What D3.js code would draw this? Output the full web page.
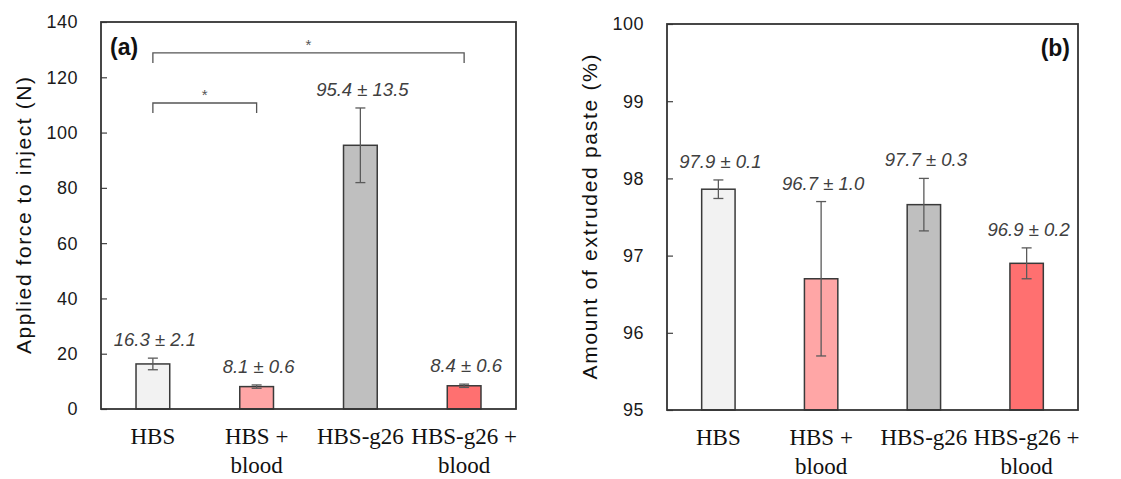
<!DOCTYPE html>
<html>
<head>
<meta charset="utf-8">
<script src="https://cdn.jsdelivr.net/npm/d3@7"></script>
<style>
  html, body { margin: 0; padding: 0; background: #fff; }
  svg { display: block; }
</style>
</head>
<body>
<svg id="chart" width="1121" height="479"></svg>
<script>
// ---------------- data ----------------
const categories = ["HBS", "HBS +\nblood", "HBS-g26", "HBS-g26 +\nblood"];
const barColors = ["#F2F2F2", "#FFA6A6", "#BFBFBF", "#FF7070"];

// (a) Applied force to inject (N)
const forceMeans  = [16.3, 8.1, 95.4, 8.4];
const forceErrors = [2.1, 0.6, 13.5, 0.6];
const forceTicks  = [0, 20, 40, 60, 80, 100, 120, 140];
const forceDomain = [0, 140];
// significance brackets: [from index, to index, bracket level value, leg end value]
const forceSigFrom   = [0, 0];
const forceSigTo     = [1, 3];
const forceSigLevel  = [110.7, 128.8];
const forceSigLegEnd = [107.1, 125.2];
const forceSigLabel  = ["*", "*"];

// (b) Amount of extruded paste (%)
const pasteMeans  = [97.86, 96.7, 97.66, 96.9];
const pasteErrors = [0.12, 1.0, 0.34, 0.2];
const pasteTicks  = [95, 96, 97, 98, 99, 100];
const pasteDomain = [95, 100];

// ---------------- drawing ----------------
const svg = d3.select("#chart");

function drawPanel(cfg) {
  const g = svg.append("g");
  const x = d3.scaleBand().domain(d3.range(categories.length))
    .range([cfg.x0, cfg.x1]).paddingInner(0).paddingOuter(0);
  const y = d3.scaleLinear().domain(cfg.domain).range([cfg.y1, cfg.y0]);
  const barW = x.bandwidth() * 0.325;
  const cx = i => x(i) + x.bandwidth() / 2;

  // inward ticks via d3 axis
  const axis = d3.axisRight(y).tickValues(cfg.ticks).tickSize(6).tickFormat("");
  const ag = g.append("g").attr("transform", `translate(${cfg.x0},0)`).call(axis);
  ag.select(".domain").remove();
  ag.selectAll(".tick line").attr("stroke", "#404040").attr("stroke-width", 1.2);

  // tick labels
  g.selectAll(".ylab").data(cfg.ticks).join("text")
    .attr("x", cfg.x0 - 23)
    .attr("y", d => y(d))
    .attr("dy", "0.36em")
    .attr("text-anchor", "end")
    .attr("font-family", "'Liberation Sans', Arial, sans-serif")
    .attr("font-size", 18)
    .attr("letter-spacing", 0.5)
    .attr("fill", "#1a1a1a")
    .text(d => d);

  // bars
  g.selectAll(".bar").data(cfg.means).join("rect")
    .attr("x", (d, i) => cx(i) - barW / 2)
    .attr("y", d => y(d))
    .attr("width", barW)
    .attr("height", d => y(cfg.domain[0]) - y(d))
    .attr("fill", (d, i) => barColors[i])
    .attr("stroke", "#3a3a3a")
    .attr("stroke-width", 1.5);

  // error bars
  const capW = 10;
  const eg = g.append("g").attr("stroke", "#5a5a5a").attr("stroke-width", 1.3);
  cfg.means.forEach((m, i) => {
    const e = cfg.errors[i];
    const yt = y(m + e), yb = y(m - e);
    eg.append("line").attr("x1", cx(i)).attr("x2", cx(i)).attr("y1", yt).attr("y2", yb);
    eg.append("line").attr("x1", cx(i) - capW / 2).attr("x2", cx(i) + capW / 2).attr("y1", yt).attr("y2", yt);
    eg.append("line").attr("x1", cx(i) - capW / 2).attr("x2", cx(i) + capW / 2).attr("y1", yb).attr("y2", yb);
  });

  // value labels
  g.selectAll(".vlab").data(cfg.means).join("text")
    .attr("x", (d, i) => cx(i) + 2)
    .attr("y", (d, i) => y(d + cfg.errors[i]) - 12)
    .attr("text-anchor", "middle")
    .attr("font-family", "'Liberation Sans', Arial, sans-serif")
    .attr("font-style", "italic")
    .attr("font-size", 18.5)
    .attr("fill", "#404040")
    .text((d, i) => `${d.toFixed(1)} ± ${cfg.errors[i].toFixed(1)}`);

  // frame
  g.append("rect")
    .attr("x", cfg.x0).attr("y", cfg.y0)
    .attr("width", cfg.x1 - cfg.x0).attr("height", cfg.y1 - cfg.y0)
    .attr("fill", "none").attr("stroke", "#333").attr("stroke-width", 1.8);

  // category labels
  categories.forEach((c, i) => {
    const lines = c.split("\n");
    const t = g.append("text")
      .attr("text-anchor", "middle")
      .attr("font-family", "'Liberation Serif', 'Times New Roman', serif")
      .attr("font-size", 23)
      .attr("fill", "#111");
    lines.forEach((ln, k) => {
      t.append("tspan").attr("x", cx(i)).attr("y", cfg.y1 + 35 + k * 29).text(ln);
    });
  });

  // y title
  const tcy = (cfg.y0 + cfg.y1) / 2;
  g.append("text")
    .attr("transform", `translate(${cfg.titleX},${tcy}) rotate(-90)`)
    .attr("text-anchor", "middle")
    .attr("dy", "0.35em")
    .attr("font-family", "'Liberation Sans', Arial, sans-serif")
    .attr("font-size", 21)
    .attr("fill", "#111")
    .attr("textLength", cfg.titleLen)
    .attr("lengthAdjust", "spacing")
    .text(cfg.title);

  // panel letter
  g.append("text")
    .attr("x", cfg.letterX).attr("y", cfg.letterY)
    .attr("text-anchor", cfg.letterAnchor)
    .attr("font-family", "'Liberation Sans', Arial, sans-serif")
    .attr("font-weight", "bold")
    .attr("font-size", 23)
    .attr("fill", "#111")
    .text(cfg.letter);

  return { g, x, y, cx };
}

const left = drawPanel({
  x0: 101, x1: 516, y0: 22, y1: 409,
  domain: forceDomain, ticks: forceTicks,
  means: forceMeans, errors: forceErrors,
  title: "Applied force to inject (N)", titleX: 24, titleLen: 277,
  letter: "(a)", letterX: 110, letterY: 55, letterAnchor: "start"
});

drawPanel({
  x0: 667, x1: 1078, y0: 24, y1: 410,
  domain: pasteDomain, ticks: pasteTicks,
  means: pasteMeans, errors: pasteErrors,
  title: "Amount of extruded paste (%)", titleX: 590, titleLen: 325,
  letter: "(b)", letterX: 1070, letterY: 56, letterAnchor: "end"
});

// significance brackets on panel (a)
const sg = left.g.append("g");
forceSigFrom.forEach((a, k) => {
  const b = forceSigTo[k];
  const xa = left.cx(a), xb = left.cx(b);
  const yl = left.y(forceSigLevel[k]), ye = left.y(forceSigLegEnd[k]);
  sg.append("path")
    .attr("d", `M${xa},${ye}V${yl}H${xb}V${ye}`)
    .attr("fill", "none").attr("stroke", "#555").attr("stroke-width", 1.3);
  sg.append("text")
    .attr("x", (xa + xb) / 2).attr("y", yl - 3)
    .attr("text-anchor", "middle")
    .attr("font-family", "'Liberation Sans', Arial, sans-serif")
    .attr("font-size", 15)
    .attr("fill", "#555")
    .text(forceSigLabel[k]);
});
</script>
</body>
</html>
